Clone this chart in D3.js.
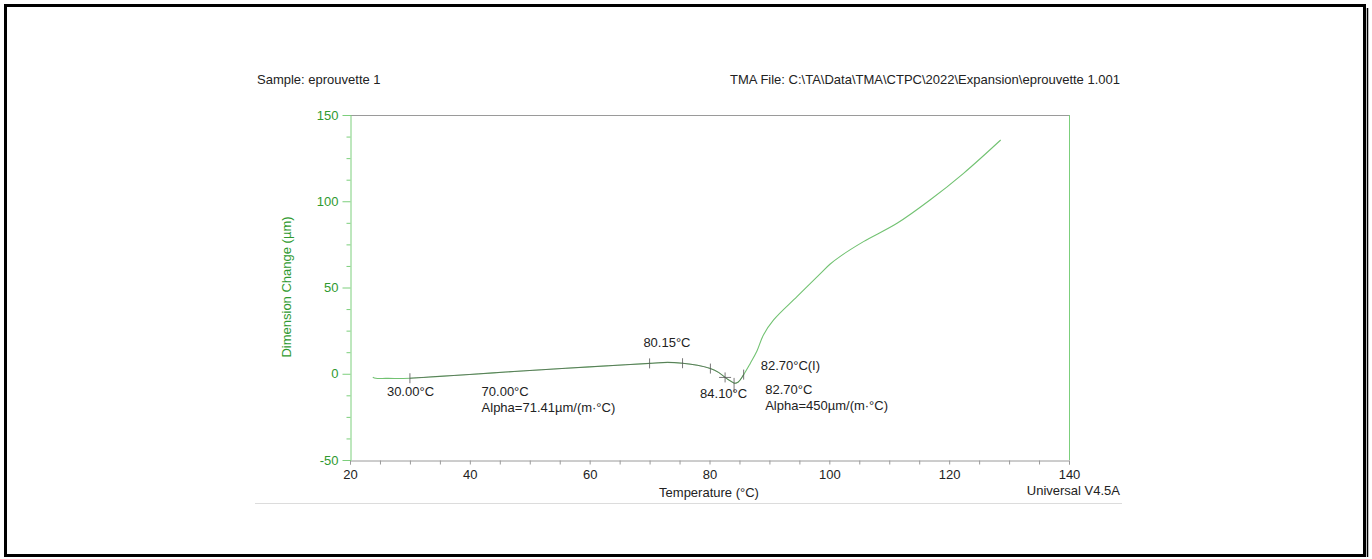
<!DOCTYPE html>
<html><head><meta charset="utf-8">
<script src="https://cdn.jsdelivr.net/npm/d3@7"></script>
<style>
html,body{margin:0;padding:0;background:#fff;}
svg{display:block;font-family:"Liberation Sans",Arial,sans-serif;}
</style></head>
<body>
<script>
// ---- data ----
const temperature = [23.8, 24.3, 26, 30, 35, 40, 46, 52, 60, 66, 70, 73, 75.5, 78, 80.15, 81.5, 82.7, 83.5, 84.2, 84.8, 85.7, 86.8, 87.9, 89, 90.7, 94.6, 98.5, 100.1, 102, 105.7, 111.3, 116.8, 122.4, 128.6];
const dimension   = [-2.0, -2.6, -2.7, -2.6, -1.5, -0.4, 1.0, 2.3, 4.0, 5.2, 6.0, 6.6, 6.1, 4.9, 3.0, 0.8, -2.4, -4.2, -5.5, -4.8, -0.5, 6.0, 13.0, 22.5, 31.2, 44.7, 58.0, 63.5, 68.5, 76.6, 87.2, 100.7, 116.2, 135.5];
const markerTemps = [30, 70, 75.5, 80.15, 82.6, 84.1, 85.7];
const xTicks = [20, 40, 60, 80, 100, 120, 140];
const yTicks = [-50, 0, 50, 100, 150];
const annotations = [
  {t: 30, d: -2.6, lines: ["30.00°C"]},
  {t: 70, d: 6.0, lines: ["70.00°C", "Alpha=71.41µm/(m·°C)"]},
  {t: 80.15, d: 3.0, lines: ["80.15°C"]},
  {t: 84.1, d: -5.5, lines: ["84.10°C"]},
  {t: 82.7, d: -2.4, lines: ["82.70°C(I)"]},
  {t: 82.7, d: -2.4, lines: ["82.70°C", "Alpha=450µm/(m·°C)"]}
];
const headerLeft = "Sample: eprouvette 1";
const headerRight = "TMA File: C:\\TA\\Data\\TMA\\CTPC\\2022\\Expansion\\eprouvette 1.001";
const xTitle = "Temperature (°C)";
const yTitle = "Dimension Change (µm)";
const footer = "Universal V4.5A";

// ---- layout ----
const W = 1372, H = 559;
const m = {left: 350, right: 1069, top: 115, bottom: 460};
const green = "#2f9a2f", lineGreen = "#7ccf7c", curveGreen = "#72c272", gray = "#9a9a9a";

const svg = d3.select("body").append("svg").attr("width", W).attr("height", H);

// outer frame
svg.append("rect").attr("x", 5.5).attr("y", 5.5).attr("width", 1359).attr("height", 550)
  .attr("fill", "none").attr("stroke", "#000").attr("stroke-width", 3);
svg.append("line").attr("x1", 1367.5).attr("x2", 1367.5).attr("y1", 8).attr("y2", 557)
  .attr("stroke", "#000").attr("stroke-width", 1.5);

const x = d3.scaleLinear().domain([20, 140]).range([m.left, m.right]);
const y = d3.scaleLinear().domain([-50, 150]).range([m.bottom, m.top]);

// headers
svg.append("text").attr("x", 257).attr("y", 84).attr("font-size", 13).attr("fill", "#222").text(headerLeft);
svg.append("text").attr("x", 1120).attr("y", 84).attr("font-size", 13).attr("fill", "#222")
  .attr("text-anchor", "end").text(headerRight);

// plot frame: top gray, right green
svg.append("line").attr("x1", m.left).attr("x2", m.right).attr("y1", m.top + 0.5).attr("y2", m.top + 0.5)
  .attr("stroke", gray).attr("stroke-width", 1);
svg.append("line").attr("x1", m.right + 0.5).attr("x2", m.right + 0.5).attr("y1", m.top).attr("y2", m.bottom)
  .attr("stroke", lineGreen).attr("stroke-width", 1);

// x axis
const xAxis = svg.append("g").attr("transform", `translate(0,${m.bottom + 0.5})`)
  .call(d3.axisBottom(x).tickValues(d3.range(20, 141, 5)).tickSize(4).tickFormat(d => xTicks.includes(d) ? d : ""));
xAxis.select(".domain").attr("stroke", gray);
xAxis.selectAll(".tick line").attr("stroke", gray);
xAxis.selectAll(".tick text").attr("font-size", 13).attr("fill", "#222").attr("dy", "0.9em")
  .attr("font-family", "Liberation Sans, Arial, sans-serif");

// y axis
const yAxis = svg.append("g").attr("transform", `translate(${m.left + 0.5},0)`)
  .call(d3.axisLeft(y).tickValues(d3.range(-50, 151, 12.5)).tickSize(4).tickFormat(d => yTicks.includes(d) ? d : ""));
yAxis.select(".domain").attr("stroke", lineGreen);
yAxis.selectAll(".tick line").attr("stroke", lineGreen)
  .attr("x2", d => yTicks.includes(d) ? -8 : -4);
yAxis.selectAll(".tick text").attr("font-size", 13).attr("fill", green).attr("x", -12)
  .attr("font-family", "Liberation Sans, Arial, sans-serif");

// axis titles
svg.append("text").attr("x", 709).attr("y", 497).attr("text-anchor", "middle").attr("font-size", 13)
  .attr("fill", "#222").text(xTitle);
svg.append("text").attr("transform", "translate(291,287) rotate(-90)").attr("text-anchor", "middle")
  .attr("font-size", 13).attr("fill", green).text(yTitle);
svg.append("text").attr("x", 1120).attr("y", 495).attr("text-anchor", "end").attr("font-size", 13)
  .attr("fill", "#222").text(footer);

// separator
svg.append("line").attr("x1", 255).attr("x2", 1122).attr("y1", 503.5).attr("y2", 503.5)
  .attr("stroke", "#dcdcdc").attr("stroke-width", 1);

// curve
const pts = temperature.map((t, i) => [t, dimension[i]]);
const line = d3.line().x(d => x(d[0])).y(d => y(d[1])).curve(d3.curveCatmullRom.alpha(0.5));
svg.append("path").datum(pts).attr("d", line).attr("fill", "none").attr("stroke", curveGreen).attr("stroke-width", 1.1);

// analysis overlay (dark) on the fitted region
const fitPts = pts.filter(p => p[0] >= 30 && p[0] <= 85.7);
svg.append("path").datum(fitPts).attr("d", line).attr("fill", "none").attr("stroke", "#444")
  .attr("stroke-width", 0.8).attr("opacity", 0.7);

// marker ticks
const interp = t => {
  for (let i = 0; i < temperature.length - 1; i++) {
    if (t >= temperature[i] && t <= temperature[i + 1]) {
      const f = (t - temperature[i]) / (temperature[i + 1] - temperature[i]);
      return dimension[i] + f * (dimension[i + 1] - dimension[i]);
    }
  }
  return 0;
};
markerTemps.forEach(t => {
  const cx = x(t), cy = y(interp(t));
  svg.append("line").attr("x1", cx).attr("x2", cx).attr("y1", cy - 5).attr("y2", t === 84.1 ? cy + 9 : cy + 5)
    .attr("stroke", "#555").attr("stroke-width", 0.8);
});
// tangent cross near onset
{
  const cx = x(82.6), cy = y(interp(82.6));
  svg.append("line").attr("x1", cx - 6).attr("x2", cx + 6).attr("y1", cy).attr("y2", cy)
    .attr("stroke", "#555").attr("stroke-width", 0.8);
}

// annotation labels (pixel offsets from the annotated point)
const labelPos = [
  {dx: -23, dy: 18}, {dx: -168, dy: 32.6}, {dx: -67, dy: -21.6}, {dx: -34, dy: 15}, {dx: 35, dy: -8}, {dx: 39.5, dy: 16}
];
annotations.forEach((a, i) => {
  const p = labelPos[i];
  const tx = svg.append("text").attr("font-size", 13).attr("fill", "#222")
    .attr("x", x(a.t) + p.dx).attr("y", y(a.d) + p.dy);
  a.lines.forEach((s, j) => tx.append("tspan").attr("x", x(a.t) + p.dx).attr("dy", j === 0 ? 0 : 16).text(s));
});
</script>
</body></html>
